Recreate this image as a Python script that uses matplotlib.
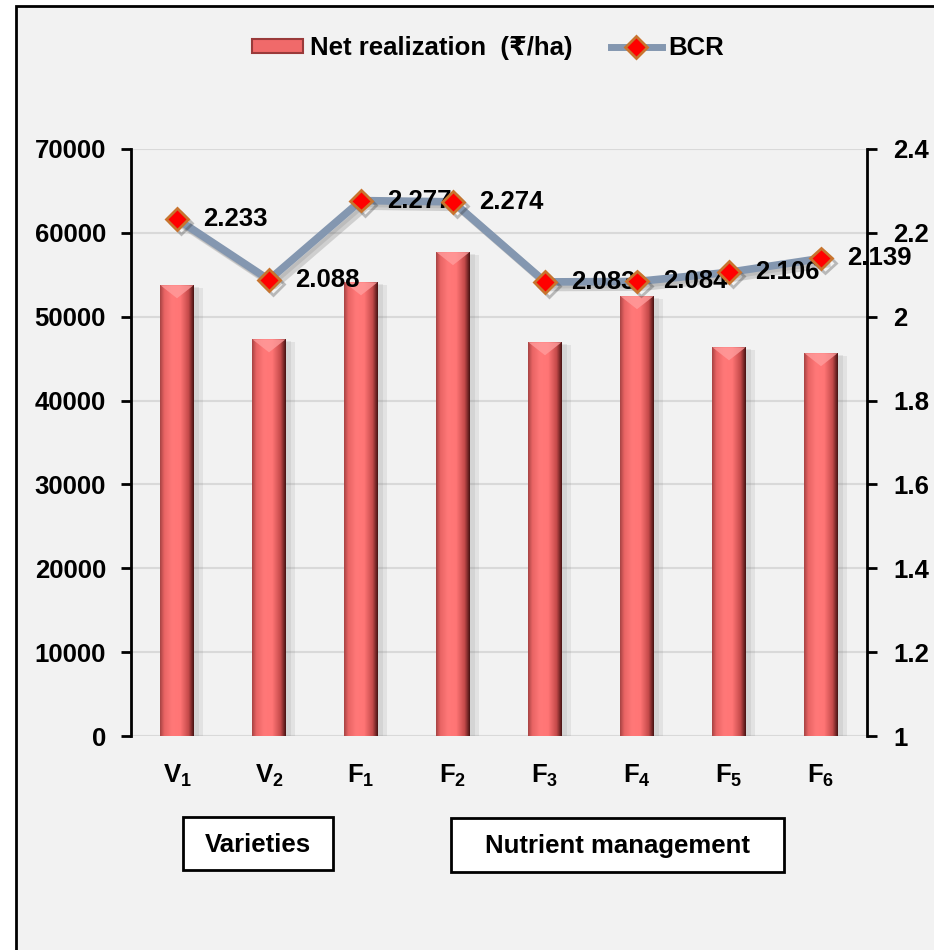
"""
Net realization and BCR by variety and nutrient management
"""
import numpy as np
import matplotlib
matplotlib.use("Agg")
import matplotlib.pyplot as plt
from matplotlib.patches import Rectangle, Polygon, Patch
from matplotlib.lines import Line2D
from matplotlib.colors import LinearSegmentedColormap
import matplotlib.patheffects as pe

plt.rcParams["font.family"] = ["Liberation Sans", "DejaVu Sans"]
plt.rcParams["font.weight"] = "bold"
plt.rcParams["mathtext.fontset"] = "custom"
plt.rcParams["mathtext.rm"] = "Liberation Sans:bold"
plt.rcParams["mathtext.bf"] = "Liberation Sans:bold"

categories = [r"$\mathbf{V_1}$", r"$\mathbf{V_2}$", r"$\mathbf{F_1}$", r"$\mathbf{F_2}$",
              r"$\mathbf{F_3}$", r"$\mathbf{F_4}$", r"$\mathbf{F_5}$", r"$\mathbf{F_6}$"]
net_realization = [53750, 47300, 54100, 57700, 46950, 52450, 46350, 45650]
bcr = [2.233, 2.088, 2.277, 2.274, 2.083, 2.084, 2.106, 2.139]
left_ticks = [0, 10000, 20000, 30000, 40000, 50000, 60000, 70000]
right_ticks = [1, 1.2, 1.4, 1.6, 1.8, 2, 2.2, 2.4]
group_labels = ["Varieties", "Nutrient management"]

BG = "#f2f2f2"
FS = 18.5
LINE_C = "#8497b0"

fig = plt.figure(figsize=(9.34, 9.5), dpi=100)
fig.patch.set_facecolor("white")
# outer frame of the chart area
fig.patches.append(Rectangle((16 / 934, -0.05), 1.2, 1.05 - 6 / 950,
                             transform=fig.transFigure, facecolor=BG,
                             edgecolor="black", linewidth=2, zorder=-5))

ax = fig.add_axes([131 / 934, 214 / 950, 736 / 934, 587 / 950])
ax.set_facecolor("none")
ax2 = ax.twinx()

x = np.arange(len(categories))
bar_shadow = [pe.SimplePatchShadow(offset=(7, -2), shadow_rgbFace="#888888", alpha=0.15),
              pe.SimplePatchShadow(offset=(4, -1), shadow_rgbFace="#888888", alpha=0.15),
              pe.Normal()]
bars = ax.bar(x, net_realization, width=0.36, color="#f06a6a", zorder=2, path_effects=bar_shadow)
ax.set_xlim(-0.5, len(categories) - 0.5)
ax.set_ylim(0, 70000)

# 3D-ish shading on the bars
shade = LinearSegmentedColormap.from_list(
    "bar", [(0, "#a84444"), (0.12, "#e86464"), (0.35, "#ff7878"), (0.6, "#ff7575"),
            (0.85, "#c44a4a"), (1, "#4a1414")])
grad = np.linspace(0, 1, 64).reshape(1, -1)
px_to_data = 70000 / 587
for b in bars:
    x0, w, h = b.get_x(), b.get_width(), b.get_height()
    im = ax.imshow(grad, cmap=shade, aspect="auto", extent=(x0, x0 + w, 0, h), zorder=3)
    im.set_clip_path(b)
    tri = Polygon([(x0, h), (x0 + w, h), (x0 + w / 2, h - 13 * px_to_data)],
                  closed=True, facecolor="#ff9c9c", edgecolor="none", alpha=0.8, zorder=4)
    ax.add_patch(tri)
ax.set_xlim(-0.5, len(categories) - 0.5)
ax.set_ylim(0, 70000)

ax.set_yticks(left_ticks)
ax.set_yticklabels([str(t) for t in left_ticks])
ax.yaxis.grid(True, color="#d9d9d9", linewidth=1.5, zorder=0)
ax.set_axisbelow(True)
ax.set_xticks(x)
ax.set_xticklabels(categories)
ax.tick_params(axis="x", length=0, pad=19, labelsize=FS)
ax.tick_params(axis="y", direction="out", length=7, width=2, pad=11, labelsize=FS)

for side in ["top", "bottom", "right"]:
    ax.spines[side].set_visible(False)
ax.spines["left"].set_linewidth(2)

# BCR line: line under the value labels, markers on top of them
soft_shadow = [pe.SimpleLineShadow(offset=(4, -4), shadow_color="#555555", alpha=0.22),
               pe.SimpleLineShadow(offset=(2, -2), shadow_color="#555555", alpha=0.15),
               pe.Normal()]
ax2.plot(x, bcr, color=LINE_C, linewidth=5.5, zorder=3, path_effects=soft_shadow)
ax2.plot(x, bcr, linestyle="none", marker="D", markersize=11,
         markerfacecolor="#ff0000", markeredgecolor="#c8742e", markeredgewidth=2, zorder=6,
         path_effects=[pe.SimpleLineShadow(offset=(3, -3), shadow_color="#333333", alpha=0.3),
                       pe.Normal()])
for xi, v in zip(x, bcr):
    ax2.annotate(f"{v:.3f}", (xi, v), xytext=(26, 0), textcoords="offset pixels",
                 ha="left", va="center", fontsize=FS, fontweight="bold", zorder=5)
ax2.set_ylim(1, 2.4)
ax2.set_yticks(right_ticks)
ax2.set_yticklabels([f"{t:g}" for t in right_ticks])
ax2.tick_params(axis="y", direction="out", length=7, width=2, pad=12, labelsize=FS)
for side in ["top", "bottom", "left"]:
    ax2.spines[side].set_visible(False)
ax2.spines["right"].set_linewidth(2)

# legend
handles = [Patch(facecolor="#f06a6a", edgecolor="#9a3a3a", linewidth=1.5),
           Line2D([0], [0], color=LINE_C, linewidth=5, marker="D", markersize=11,
                  markerfacecolor="#ff0000", markeredgecolor="#c8742e", markeredgewidth=2)]
fig.legend(handles, ["Net realization  (\u20b9/ha)", "BCR"], loc="center",
           bbox_to_anchor=(488 / 934, 1 - 48 / 950), ncol=2, frameon=False,
           prop={"size": FS, "weight": "bold"}, handlelength=2.0, handleheight=0.5,
           handletextpad=0.25, columnspacing=1.5)

# group boxes under the axis
boxes = [(183, 817, 150, 53), (451, 818, 333, 54)]
for (bx, by, bw, bh), label in zip(boxes, group_labels):
    fig.patches.append(Rectangle((bx / 934, 1 - (by + bh) / 950), bw / 934, bh / 950,
                                 transform=fig.transFigure, facecolor="white",
                                 edgecolor="black", linewidth=2, zorder=1))
    fig.text((bx + bw / 2) / 934, 1 - (by + bh / 2 + 1) / 950, label, ha="center", va="center",
             fontsize=FS, fontweight="bold", zorder=2)

fig.savefig("out.png", dpi=100, facecolor=fig.get_facecolor())
